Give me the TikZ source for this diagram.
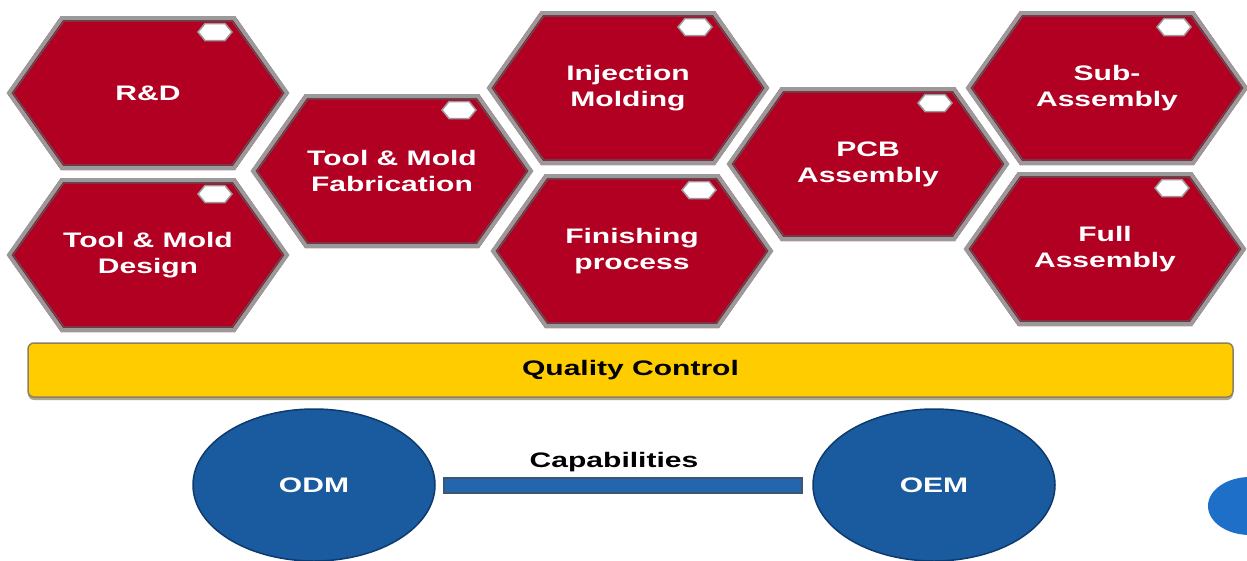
\documentclass[tikz,border=0pt]{standalone}
\usepackage{fontspec}
\setmainfont{Liberation Sans}[FakeStretch=1.43]
\usetikzlibrary{shapes.geometric}

\definecolor{hexred}{HTML}{B10022}
\definecolor{hexrim}{HTML}{9A9A9A}
\definecolor{hexedge}{HTML}{555555}
\definecolor{qcyellow}{HTML}{FFCC00}
\definecolor{qcedge}{HTML}{8C8060}
\definecolor{odmblue}{HTML}{1A5A9E}
\definecolor{odmedge}{HTML}{0E3A6E}
\definecolor{baredge}{HTML}{3F5670}
\definecolor{barblue}{HTML}{2466AD}
\definecolor{dotblue}{HTML}{1E6FC8}

\tikzset{
  bold label/.style={font=\bfseries\fontsize{21}{26}\selectfont, align=center, inner sep=0pt},
  hextext/.style={bold label, text=white},
  qcbar/.style={bold label, text=black, rounded corners=6pt, fill=qcyellow, draw=qcedge,
    line width=1.5pt, minimum width=1205pt, minimum height=54pt},
  unit/.style={ellipse, bold label, text=white, fill=odmblue, draw=odmedge, line width=1.5pt,
    minimum width=242pt, minimum height=152pt},
  capbar outer/.style={baredge, line width=17pt, shorten <=7pt, shorten >=9pt},
  capbar inner/.style={barblue, line width=13pt, shorten <=9pt, shorten >=11pt},
}

% one process cell: #1 name, #2 x, #3 y, #4 text
\newcommand\hexcell[4]{%
  \begin{scope}[shift={(#2,#3)}]
    \fill[hexred] (-141,0)--(-87,-77)--(87,-77)--(141,0)--(87,77)--(-87,77)--cycle;
    \draw[hexrim, line width=4pt, line join=miter]
      (-139,0)--(-86,-75)--(86,-75)--(139,0)--(86,75)--(-86,75)--cycle;
    \draw[hexedge, line width=1.2pt, line join=miter]
      (-135,0)--(-84,-72)--(84,-72)--(135,0)--(84,72)--(-84,72)--cycle;
    \draw[fill=white, draw=hexrim, line width=1.5pt]
      (50,-61)--(57,-69.5)--(77,-69.5)--(84,-61)--(77,-52.5)--(57,-52.5)--cycle;
  \end{scope}
  \node[hextext] (#1) at (#2,#3) {#4};
}

\begin{document}
\begin{tikzpicture}[x=1pt, y=-1pt]
  \useasboundingbox (0,0) rectangle (1247,560);
  \fill[white] (0,0) rectangle (1247,560);

  % process cells
  \hexcell{rd}{148}{93}{R\&D}
  \hexcell{design}{148}{255}{Tool \& Mold\\Design}
  \hexcell{fab}{392}{171}{Tool \& Mold\\Fabrication}
  \hexcell{inject}{628}{88}{Injection\\Molding}
  \hexcell{finish}{632}{251}{Finishing\\process}
  \hexcell{pcb}{868}{164}{PCB\\Assembly}
  \hexcell{sub}{1107}{88}{Sub-\\Assembly}
  \hexcell{full}{1105}{249}{Full\\Assembly}

  % quality control band
  \fill[qcedge!70, rounded corners=6pt] (28,346) rectangle (1233,400);
  \node[qcbar] (qc) at (630.5,370) {Quality Control};

  % business models
  \node[unit] (odm) at (314,485) {ODM};
  \node[unit] (oem) at (934,485) {OEM};
  \node[ellipse, fill=dotblue, minimum width=84pt, minimum height=58pt] (more) at (1250,506) {};

  \draw[capbar outer] (odm.east) -- (oem.west);
  \draw[capbar inner] (odm.east) -- (oem.west);
  \node[bold label, text=black] (cap) at (614,462) {Capabilities};
\end{tikzpicture}
\end{document}
